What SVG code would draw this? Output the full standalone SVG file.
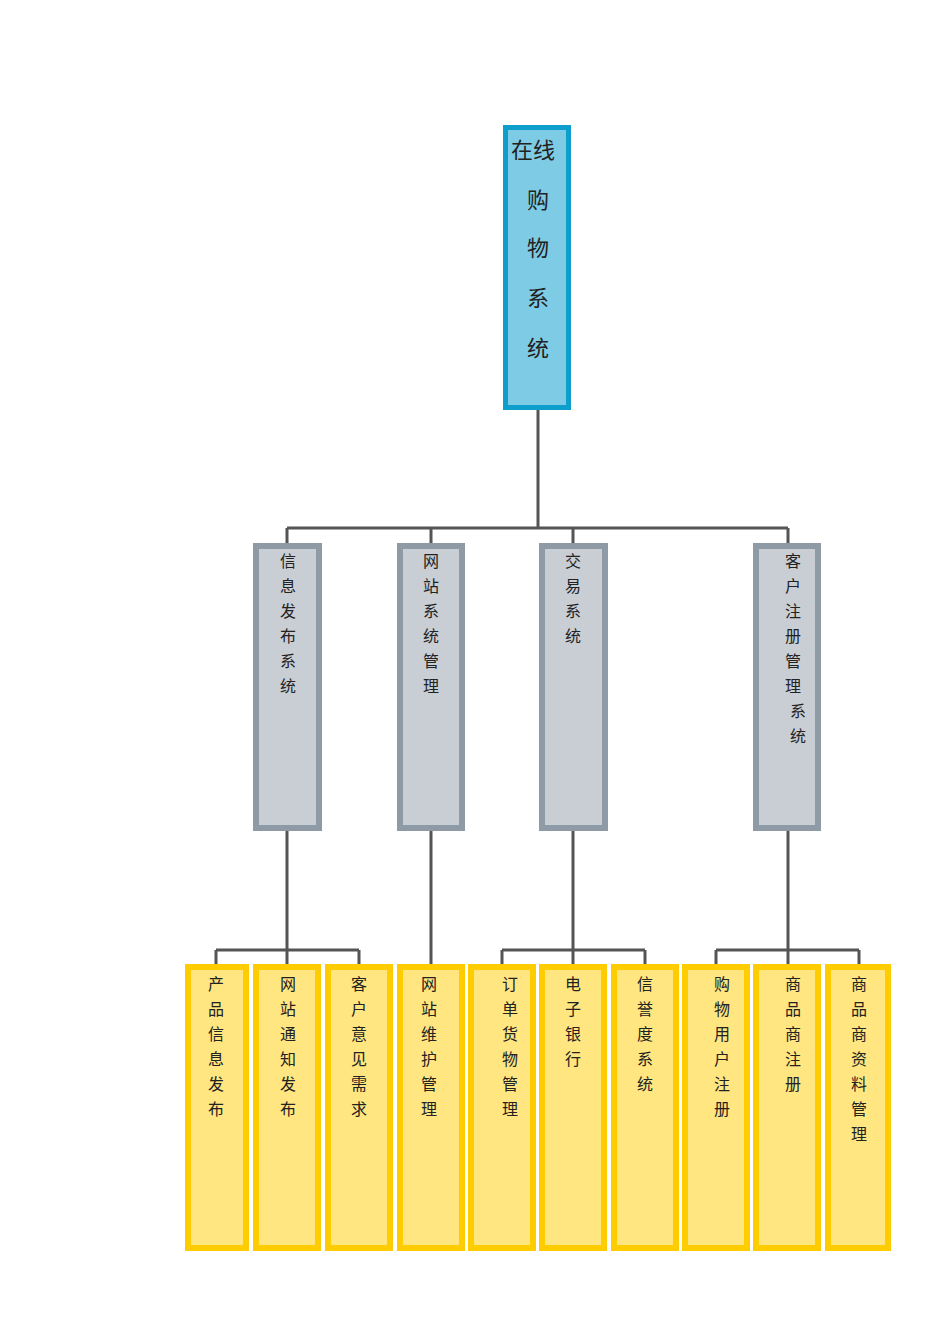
<svg xmlns="http://www.w3.org/2000/svg" width="950" height="1344" viewBox="0 0 950 1344">
<style>
text{font-family:"Noto Sans CJK SC",sans-serif;fill:#222;text-anchor:middle}
.t{fill:#7ECBE5;stroke:#0E9ECB;stroke-width:5}
.m{fill:#C9CED4;stroke:#8E9AA5;stroke-width:6}
.b{fill:#FFE680;stroke:#FFCC00;stroke-width:6}
.s{font-size:16px}
.c{stroke:#555;stroke-width:3;fill:none}
</style>
<rect width="950" height="1344" fill="#fff"/>
<g id="connectors">
<path class="c" d="M538 410V528M287 528H788M287 528V543M431 528V543M573 528V543M788 528V543"/>
<path class="c" d="M287 831V950M216 950H359M216 950V964M359 950V964M287 950V964"/>
<path class="c" d="M431 831V964"/>
<path class="c" d="M573 831V950M502 950H645M502 950V964M645 950V964M573 950V964"/>
<path class="c" d="M788 831V950M716 950H859M716 950V964M859 950V964M788 950V964"/>
</g>
<g id="root"><rect class="t" x="505.5" y="127.5" width="63" height="280"/>
<text font-size="22"><tspan x="533" y="158">在线</tspan><tspan x="538" y="208">购</tspan><tspan x="538" y="256">物</tspan><tspan x="538" y="306">系</tspan><tspan x="538" y="356">统</tspan></text></g>
<g id="m1"><rect class="m" x="256" y="546" width="63" height="282"/><text class="s"><tspan x="288" y="567">信</tspan><tspan x="288" y="592">息</tspan><tspan x="288" y="617">发</tspan><tspan x="288" y="642">布</tspan><tspan x="288" y="667">系</tspan><tspan x="288" y="692">统</tspan></text></g>
<g id="m2"><rect class="m" x="400" y="546" width="62" height="282"/><text class="s"><tspan x="431" y="567">网</tspan><tspan x="431" y="592">站</tspan><tspan x="431" y="617">系</tspan><tspan x="431" y="642">统</tspan><tspan x="431" y="667">管</tspan><tspan x="431" y="692">理</tspan></text></g>
<g id="m3"><rect class="m" x="542" y="546" width="63" height="282"/><text class="s"><tspan x="573" y="567">交</tspan><tspan x="573" y="592">易</tspan><tspan x="573" y="617">系</tspan><tspan x="573" y="642">统</tspan></text></g>
<g id="m4"><rect class="m" x="756" y="546" width="62" height="282"/><text class="s"><tspan x="793" y="567">客</tspan><tspan x="793" y="592">户</tspan><tspan x="793" y="617">注</tspan><tspan x="793" y="642">册</tspan><tspan x="793" y="667">管</tspan><tspan x="793" y="692">理</tspan><tspan x="798" y="717">系</tspan><tspan x="798" y="742">统</tspan></text></g>
<g id="b1"><rect class="b" x="188" y="967" width="58" height="281"/><text class="s"><tspan x="216" y="990">产</tspan><tspan x="216" y="1015">品</tspan><tspan x="216" y="1040">信</tspan><tspan x="216" y="1065">息</tspan><tspan x="216" y="1090">发</tspan><tspan x="216" y="1115">布</tspan></text></g>
<g id="b2"><rect class="b" x="256" y="967" width="62" height="281"/><text class="s"><tspan x="288" y="990">网</tspan><tspan x="288" y="1015">站</tspan><tspan x="288" y="1040">通</tspan><tspan x="288" y="1065">知</tspan><tspan x="288" y="1090">发</tspan><tspan x="288" y="1115">布</tspan></text></g>
<g id="b3"><rect class="b" x="328" y="967" width="62" height="281"/><text class="s"><tspan x="359" y="990">客</tspan><tspan x="359" y="1015">户</tspan><tspan x="359" y="1040">意</tspan><tspan x="359" y="1065">见</tspan><tspan x="359" y="1090">需</tspan><tspan x="359" y="1115">求</tspan></text></g>
<g id="b4"><rect class="b" x="400" y="967" width="62" height="281"/><text class="s"><tspan x="429" y="990">网</tspan><tspan x="429" y="1015">站</tspan><tspan x="429" y="1040">维</tspan><tspan x="429" y="1065">护</tspan><tspan x="429" y="1090">管</tspan><tspan x="429" y="1115">理</tspan></text></g>
<g id="b5"><rect class="b" x="471" y="967" width="62" height="281"/><text class="s"><tspan x="510" y="990">订</tspan><tspan x="510" y="1015">单</tspan><tspan x="510" y="1040">货</tspan><tspan x="510" y="1065">物</tspan><tspan x="510" y="1090">管</tspan><tspan x="510" y="1115">理</tspan></text></g>
<g id="b6"><rect class="b" x="542" y="967" width="62" height="281"/><text class="s"><tspan x="573" y="990">电</tspan><tspan x="573" y="1015">子</tspan><tspan x="573" y="1040">银</tspan><tspan x="573" y="1065">行</tspan></text></g>
<g id="b7"><rect class="b" x="614" y="967" width="62" height="281"/><text class="s"><tspan x="645" y="990">信</tspan><tspan x="645" y="1015">誉</tspan><tspan x="645" y="1040">度</tspan><tspan x="645" y="1065">系</tspan><tspan x="645" y="1090">统</tspan></text></g>
<g id="b8"><rect class="b" x="685" y="967" width="62" height="281"/><text class="s"><tspan x="722" y="990">购</tspan><tspan x="722" y="1015">物</tspan><tspan x="722" y="1040">用</tspan><tspan x="722" y="1065">户</tspan><tspan x="722" y="1090">注</tspan><tspan x="722" y="1115">册</tspan></text></g>
<g id="b9"><rect class="b" x="756" y="967" width="62" height="281"/><text class="s"><tspan x="793" y="990">商</tspan><tspan x="793" y="1015">品</tspan><tspan x="793" y="1040">商</tspan><tspan x="793" y="1065">注</tspan><tspan x="793" y="1090">册</tspan></text></g>
<g id="b10"><rect class="b" x="828" y="967" width="60" height="281"/><text class="s"><tspan x="859" y="990">商</tspan><tspan x="859" y="1015">品</tspan><tspan x="859" y="1040">商</tspan><tspan x="859" y="1065">资</tspan><tspan x="859" y="1090">料</tspan><tspan x="859" y="1115">管</tspan><tspan x="859" y="1140">理</tspan></text></g>
</svg>
